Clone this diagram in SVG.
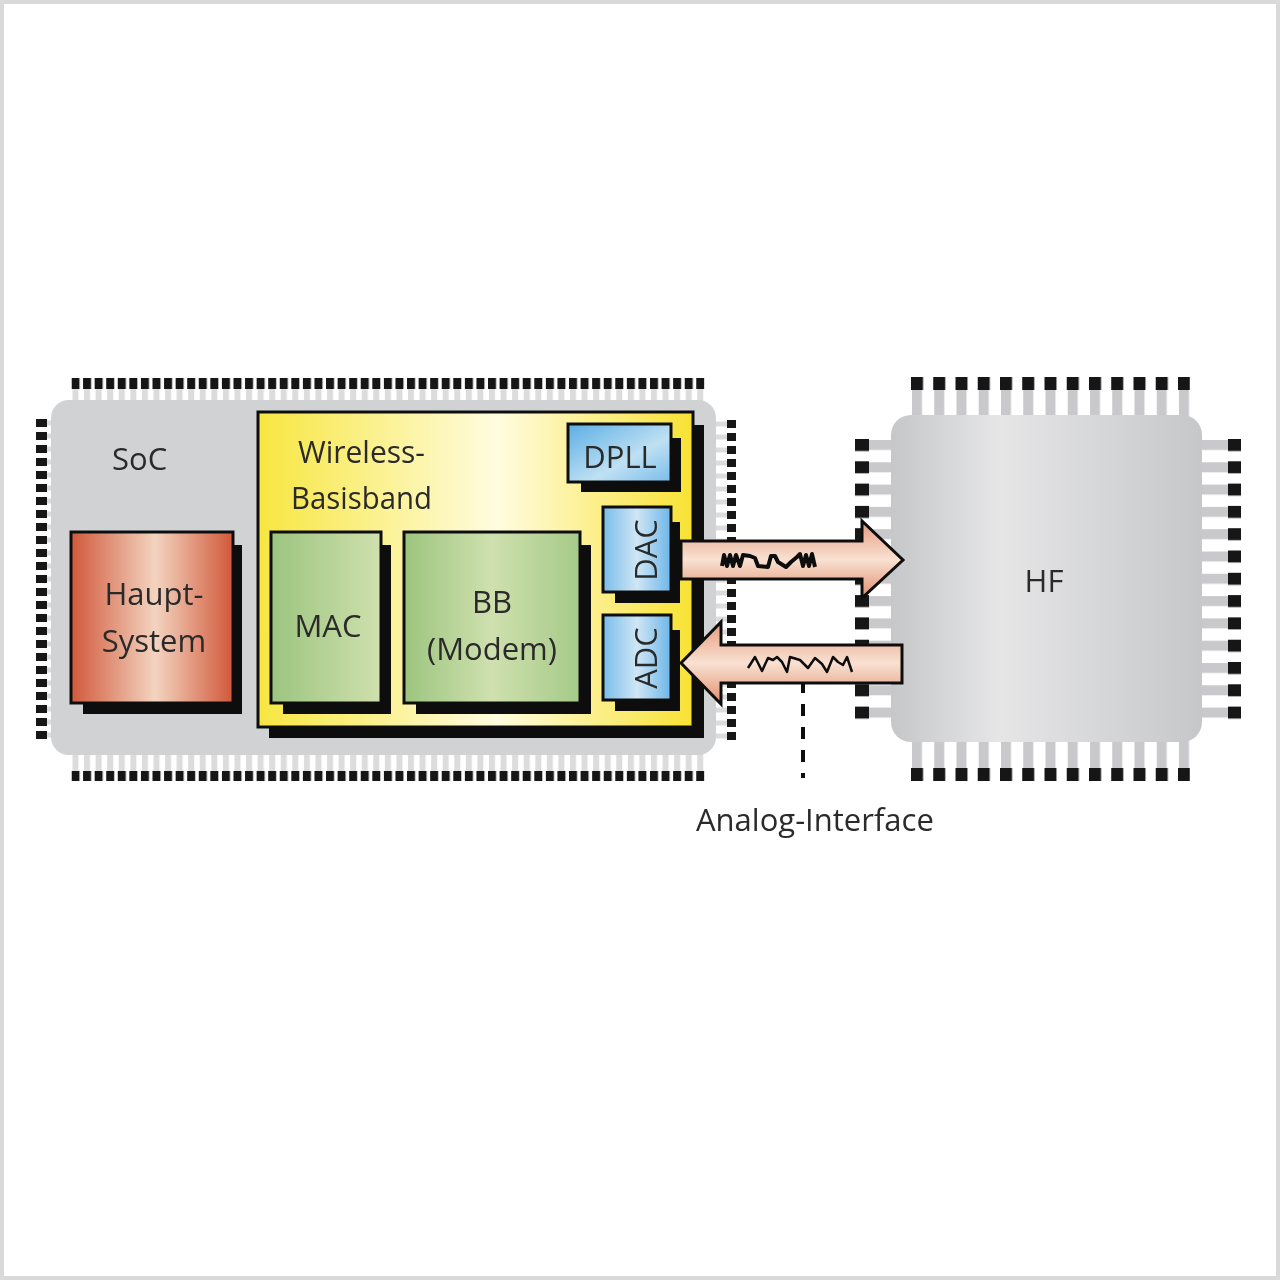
<svg xmlns="http://www.w3.org/2000/svg" width="1280" height="1280" viewBox="0 0 1280 1280">
<style>
text{font-family:"Open Sans","Noto Sans","Liberation Sans",sans-serif;font-size:31px;fill:#2b2b2b}
.m{text-anchor:middle}
.b{fill:#111}
.s{stroke:#111;stroke-width:3}
.w{fill:none;stroke:#111;stroke-linejoin:round}
</style>
<defs>
<filter id="soft" x="0" y="0" width="1" height="1" filterUnits="objectBoundingBox"><feGaussianBlur stdDeviation="0.6"/></filter>
<linearGradient id="grey"><stop offset="0" stop-color="#c6c7c9"/><stop offset=".35" stop-color="#e6e6e7"/><stop offset="1" stop-color="#c6c7c9"/></linearGradient>
<linearGradient id="red"><stop offset="0" stop-color="#d1583a"/><stop offset=".52" stop-color="#f3d4c0"/><stop offset="1" stop-color="#d1583a"/></linearGradient>
<linearGradient id="green"><stop offset="0" stop-color="#9cc57f"/><stop offset="1" stop-color="#cfe0ae"/></linearGradient>
<linearGradient id="green2"><stop offset="0" stop-color="#9cc57f"/><stop offset=".5" stop-color="#cfe0ae"/><stop offset="1" stop-color="#a5ca88"/></linearGradient>
<linearGradient id="yellow" x1="0" y1="0" x2="1" y2="0"><stop offset="0" stop-color="#f7e640"/><stop offset=".55" stop-color="#fffce0"/><stop offset=".85" stop-color="#fbeb70"/><stop offset="1" stop-color="#f8e232"/></linearGradient>
<linearGradient id="blue" x1="0" y1="0" x2="1" y2="1"><stop offset="0" stop-color="#5aaee4"/><stop offset=".6" stop-color="#bfe0f3"/><stop offset="1" stop-color="#78bdea"/></linearGradient>
<linearGradient id="blue2"><stop offset="0" stop-color="#79bdea"/><stop offset=".5" stop-color="#cfe6f5"/><stop offset="1" stop-color="#6db6e8"/></linearGradient>
<linearGradient id="pink" x1="0" y1="0" x2="0" y2="1"><stop offset="0" stop-color="#e59a7c"/><stop offset=".5" stop-color="#f9e1d2"/><stop offset="1" stop-color="#e08e6e"/></linearGradient>
<pattern id="sTopL" patternUnits="userSpaceOnUse" x="71.5" y="0" width="11.57" height="1280"><rect x="1" y="389" width="6" height="13" fill="#dcdcdc"/><rect y="378" width="8" height="11" fill="#151515"/></pattern>
<pattern id="sBotL" patternUnits="userSpaceOnUse" x="71.5" y="0" width="11.57" height="1280"><rect x="1" y="753" width="6" height="19" fill="#dcdcdc"/><rect y="771" width="8" height="10" fill="#151515"/></pattern>
<pattern id="sLeft" patternUnits="userSpaceOnUse" x="0" y="419" width="1280" height="13"><rect x="47" y="1.5" width="6" height="5" fill="#dcdcdc"/><rect x="36" y="0" width="11" height="8" fill="#151515"/></pattern>
<pattern id="sRight" patternUnits="userSpaceOnUse" x="0" y="420" width="1280" height="13"><rect x="714" y="1.5" width="13" height="5" fill="#dcdcdc"/><rect x="727" y="0" width="9" height="8" fill="#151515"/></pattern>
<pattern id="hTop" patternUnits="userSpaceOnUse" x="911" y="0" width="22.25" height="1280"><rect x="1" y="390" width="10" height="28" fill="#c9c9cb"/><rect y="377" width="12" height="13" fill="#151515"/></pattern>
<pattern id="hBot" patternUnits="userSpaceOnUse" x="911" y="0" width="22.25" height="1280"><rect x="1" y="740" width="10" height="28" fill="#c9c9cb"/><rect y="768" width="12" height="13" fill="#151515"/></pattern>
<pattern id="hLeft" patternUnits="userSpaceOnUse" x="0" y="439" width="1280" height="22.3"><rect x="869" y="1" width="25" height="10" fill="#c9c9cb"/><rect x="855" y="0" width="14" height="12" fill="#151515"/></pattern>
<pattern id="hRight" patternUnits="userSpaceOnUse" x="0" y="439" width="1280" height="22.3"><rect x="1199" y="1" width="29" height="10" fill="#c9c9cb"/><rect x="1228" y="0" width="13" height="12" fill="#151515"/></pattern>
</defs>
<rect width="1280" height="1280" fill="#fff"/>
<rect x="2" y="2" width="1276" height="1276" fill="none" stroke="#d9d9d9" stroke-width="4"/>
<g filter="url(#soft)">
<g id="soc">
<rect x="71.5" y="378" width="633" height="24" fill="url(#sTopL)"/>
<rect x="71.5" y="753" width="633" height="28" fill="url(#sBotL)"/>
<rect x="36" y="419" width="17" height="321" fill="url(#sLeft)"/>
<rect x="714" y="420" width="22" height="321" fill="url(#sRight)"/>
<rect x="51" y="400" width="665" height="355" rx="18" fill="#d1d2d4"/>
<text x="112" y="470">SoC</text>
</g>

<g id="wireless-basisband">
<rect x="269" y="425" width="435" height="313" class="b"/>
<rect x="258" y="412" width="435" height="315" fill="url(#yellow)" class="s"/>
<text x="298" y="463" textLength="127" lengthAdjust="spacingAndGlyphs">Wireless-</text>
<text x="291" y="509" textLength="141" lengthAdjust="spacingAndGlyphs">Basisband</text>
</g>

<g id="haupt-system">
<rect x="83" y="545" width="159" height="169" class="b"/>
<rect x="71" y="532" width="162" height="171" fill="url(#red)" class="s"/>
<text x="154" y="605" class="m">Haupt-</text>
<text x="154" y="652" class="m">System</text>
</g>

<g id="mac">
<rect x="283" y="545" width="108" height="169" class="b"/>
<rect x="271" y="532" width="110" height="171" fill="url(#green)" class="s"/>
<text x="328" y="637" class="m">MAC</text>
</g>

<g id="bb">
<rect x="416" y="545" width="175" height="169" class="b"/>
<rect x="404" y="532" width="176" height="171" fill="url(#green2)" class="s"/>
<text x="492" y="613" class="m">BB</text>
<text x="492" y="660" class="m">(Modem)</text>
</g>

<g id="dpll">
<rect x="581" y="438" width="100" height="54" class="b"/>
<rect x="568" y="424" width="103" height="58" fill="url(#blue)" class="s"/>
<text x="620" y="468" class="m">DPLL</text>
</g>

<g id="dac">
<rect x="615" y="522" width="65" height="81" class="b"/>
<rect x="603" y="507" width="68" height="85" fill="url(#blue2)" class="s"/>
<text transform="translate(657 550) rotate(-90)" class="m">DAC</text>
</g>

<g id="adc">
<rect x="615" y="630" width="65" height="81" class="b"/>
<rect x="603" y="615" width="68" height="85" fill="url(#blue2)" class="s"/>
<text transform="translate(657 658) rotate(-90)" class="m">ADC</text>
</g>

<g id="hf">
<rect x="911" y="377" width="279" height="41" fill="url(#hTop)"/>
<rect x="911" y="740" width="279" height="41" fill="url(#hBot)"/>
<rect x="855" y="439" width="40" height="286" fill="url(#hLeft)"/>
<rect x="1199" y="439" width="42" height="286" fill="url(#hRight)"/>
<rect x="891" y="415" width="311" height="327" rx="20" fill="url(#grey)"/>
<text x="1044" y="592" class="m">HF</text>
</g>

<g id="connectors">
<path d="M803 681V778" fill="none" stroke="#111" stroke-width="4" stroke-dasharray="12 11"/>
<path d="M681 541H862V521L903 560L862 598V579H681Z" fill="url(#pink)" stroke="#111" stroke-width="3"/>
<path class="w" stroke-width="4" d="M722 566L724 555L727 566L730 555L733 566L736 555L740 566L743 555L750 556L755 558L758 566L768 567L771 556L775 556L778 562L786 567L791 562L797 557L800 554L803 566L806 555L809 566L812 554L815 567"/>
<path d="M902 645H721V622L681 663L721 704V683H902Z" fill="url(#pink)" stroke="#111" stroke-width="3"/>
<path class="w" stroke-width="2.5" d="M748 668L755 657L762 671L768 658L773 660L777 657L782 662L787 672L790 657L800 660L808 668L815 658L822 664L827 672L833 657L838 662L843 665L847 657L852 672"/>
</g>

<text id="analog-interface" x="696" y="831">Analog-Interface</text>
</g>
</svg>
